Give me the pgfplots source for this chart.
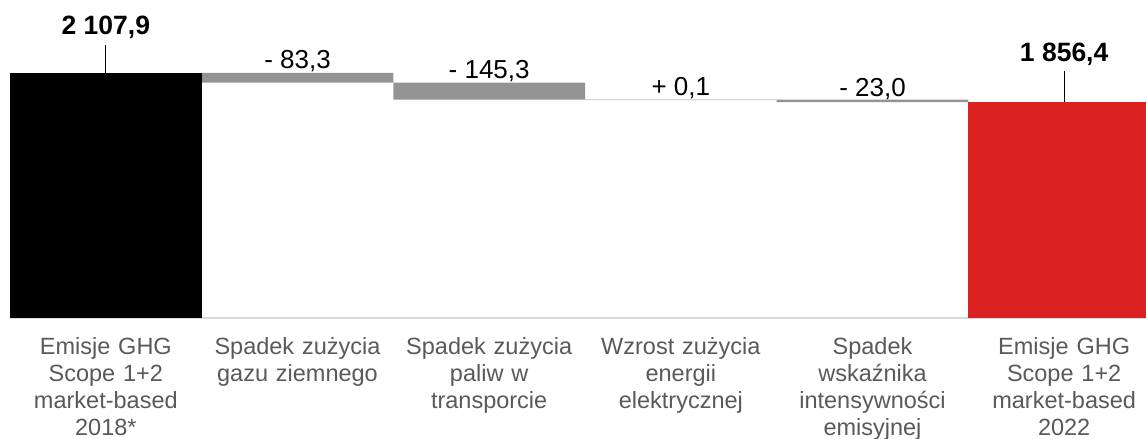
\documentclass[border=0pt]{standalone}
\usepackage{pgfplots}
\pgfplotsset{compat=1.18}
\usepackage{fontspec}
\setmainfont{Liberation Sans}
\definecolor{bargray}{HTML}{939393}
\definecolor{barred}{HTML}{DA2320}
\definecolor{lightline}{HTML}{D9D9D9}
\definecolor{labelgray}{HTML}{595959}
\begin{document}
\begin{tikzpicture}
\useasboundingbox (0pt,0pt) rectangle (1146pt,439pt);
\clip (0pt,0pt) rectangle (1146pt,439pt);
\begin{axis}[
  at={(10pt,121pt)}, anchor=south west,
  scale only axis, width=1150pt, height=302.2pt,
  xmin=-0.5, xmax=5.5, ymin=0, ymax=2600,
  ybar stacked, bar width=1,
  axis x line*=bottom, axis y line=none,
  x axis line style={draw=lightline, line width=1.5pt, -},
  xtick={0,1,2,3,4,5}, major tick length=0pt,
  xticklabels={{Emisje GHG\\Scope 1+2\\market-based\\2018*},
               {Spadek zużycia\\gazu ziemnego},
               {Spadek zużycia\\paliw w\\transporcie},
               {Wzrost zużycia\\energii\\elektrycznej},
               {Spadek\\wskaźnika\\intensywności\\emisyjnej},
               {Emisje GHG\\Scope 1+2\\market-based\\2022}},
  xticklabel style={font=\fontsize{23.5}{27}\selectfont, text width=190pt, align=center,
     text=labelgray, anchor=north, inner sep=0pt, yshift=-19.5pt},
  clip=false,
]
\addplot[draw=none, fill=none] coordinates {(0,0)(1,2024.6)(2,1879.3)(3,1879.3)(4,1856.4)(5,0)};
\addplot[draw=none, fill=black] coordinates {(0,2107.9)(1,0)(2,0)(3,0)(4,0)(5,0)};
\addplot[draw=none, fill=bargray] coordinates {(0,0)(1,83.3)(2,145.3)(3,0)(4,23.0)(5,0)};
\addplot[draw=none, fill=lightline] coordinates {(0,0)(1,0)(2,0)(3,0.1)(4,0)(5,0)};
\addplot[draw=none, fill=barred] coordinates {(0,0)(1,0)(2,0)(3,0)(4,0)(5,1856.4)};
\addplot[stack plots=false, sharp plot, no marks, draw=lightline, line width=1.2pt, forget plot] coordinates {(2.5,1879.35)(3.5,1879.35)};
% totals
\draw[black, line width=0.8pt] (axis cs:0,2107.9) -- ++(0pt,28pt);
\node[anchor=base, inner sep=0pt, font=\fontsize{26.5}{30}\selectfont\bfseries] at (axis cs:0,2107.9) [yshift=38pt] {2 107,9};
\draw[black, line width=0.8pt] (axis cs:5,1856.4) -- ++(0pt,31.5pt);
\node[anchor=base, inner sep=0pt, font=\fontsize{26.5}{30}\selectfont\bfseries] at (axis cs:5,1856.4) [yshift=40.5pt] {1 856,4};
% deltas
\node[anchor=base, inner sep=0pt, font=\fontsize{26}{30}\selectfont] at (axis cs:1,2107.9) [yshift=4.5pt] {- 83,3};
\node[anchor=base, inner sep=0pt, font=\fontsize{26}{30}\selectfont] at (axis cs:2,2024.6) [yshift=4pt] {- 145,3};
\node[anchor=base, inner sep=0pt, font=\fontsize{26}{30}\selectfont] at (axis cs:3,1879.4) [yshift=4.5pt] {+ 0,1};
\node[anchor=base, inner sep=0pt, font=\fontsize{26}{30}\selectfont] at (axis cs:4,1879.3) [yshift=3.5pt] {- 23,0};
\end{axis}
\end{tikzpicture}
\end{document}
